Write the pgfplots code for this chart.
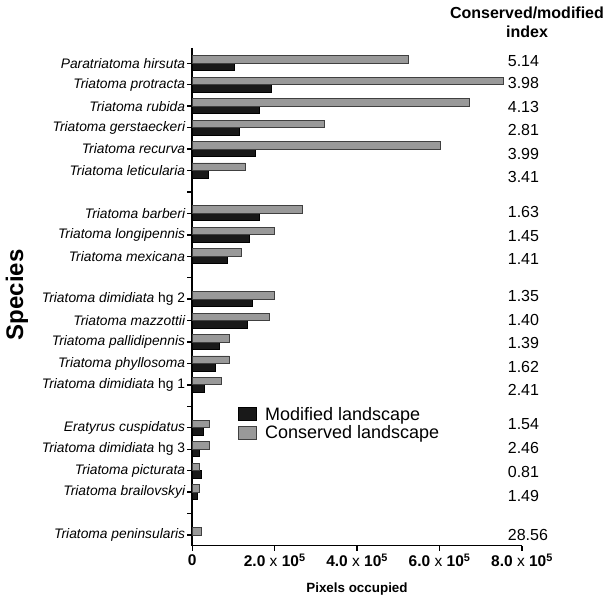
\documentclass[border=0pt]{standalone}
\usepackage{pgfplots}
\pgfplotsset{compat=1.18}
\usepackage{fontspec}
\setmainfont{Liberation Sans}

\definecolor{consgray}{gray}{0.6}
\definecolor{modblack}{gray}{0.1}

\pgfplotstableread{
y x
0 525000
1 756000
2 672000
3 321000
4 603000
5 129000
7 267000
8 200000
9 118000
11 200000
12 188000
13 91000
14 90000
15 71000
17 40500
18 40500
19 18000
20 18000
22 21000
}\conserved

\pgfplotstableread{
y x
0 102000
1 191000
2 163000
3 115000
4 152000
5 38000
7 164000
8 138000
9 84000
11 146000
12 134000
13 65000
14 55000
15 29000
17 26000
18 16500
19 23000
20 12000
22 735
}\modified

\begin{document}
\begin{tikzpicture}[x=1pt,y=1pt]
\useasboundingbox (0,0) rectangle (606,601);
\begin{axis}[
    at={(192.3pt,55.3pt)}, anchor=south west,
    scale only axis, width=329.7pt, height=497.7pt,
    xmin=0, xmax=8e5,
    ymin=-0.714, ymax=22.5, y dir=reverse,
    axis lines=left,
    axis line style={-, line width=1.6pt},
    clip=false,
    tick align=outside,
    major tick length=5pt,
    tick style={line width=1.4pt, black},
    scaled x ticks=false,
    xtick={0,200000,400000,600000,800000},
    xticklabels={0,
        2.0 \textmd{x} 10\textsuperscript{5},
        4.0 \textmd{x} 10\textsuperscript{5},
        6.0 \textmd{x} 10\textsuperscript{5},
        8.0 \textmd{x} 10\textsuperscript{5}},
    xticklabel style={font=\bfseries\fontsize{15.5}{17}\selectfont},
    ytick={0,...,22},
    yticklabels={
        Paratriatoma hirsuta,
        Triatoma protracta,
        Triatoma rubida,
        Triatoma gerstaeckeri,
        Triatoma recurva,
        Triatoma leticularia,
        {},
        Triatoma barberi,
        Triatoma longipennis,
        Triatoma mexicana,
        {},
        Triatoma dimidiata \textup{hg 2},
        Triatoma mazzottii,
        Triatoma pallidipennis,
        Triatoma phyllosoma,
        Triatoma dimidiata \textup{hg 1},
        {},
        Eratyrus cuspidatus,
        Triatoma dimidiata \textup{hg 3},
        Triatoma picturata,
        Triatoma brailovskyi,
        {},
        Triatoma peninsularis},
    yticklabel style={font=\itshape\fontsize{13.8}{15}\selectfont, inner sep=2pt},
    legend style={at={(rel axis cs:0.13,0.287)}, anchor=north west,
        draw=none, fill=none, font=\fontsize{18}{20}\selectfont},
    legend cell align=left,
    legend image code/.code={\draw[#1] (0pt,-6.5pt) rectangle (18pt,6.5pt); \path (24pt,0pt);},
]
\addplot[xbar, bar width=0.35, bar shift=0.175, fill=modblack, draw=black, line width=0.8pt]
    table[x=x, y=y] {\modified};
\addlegendentry{Modified landscape}
\addplot[xbar, bar width=0.35, bar shift=-0.175, fill=consgray, draw=black!75, line width=0.8pt]
    table[x=x, y=y] {\conserved};
\addlegendentry{Conserved landscape}

\begin{scope}[every node/.style={anchor=west, inner sep=0pt, font=\fontsize{16}{18}\selectfont}]
\node at (axis cs:765300,-0.12) {5.14};
\node at (axis cs:765300,0.92) {3.98};
\node at (axis cs:765300,2.02) {4.13};
\node at (axis cs:765300,3.11) {2.81};
\node at (axis cs:765300,4.23) {3.99};
\node at (axis cs:765300,5.29) {3.41};
\node at (axis cs:765300,6.95) {1.63};
\node at (axis cs:765300,8.04) {1.45};
\node at (axis cs:765300,9.13) {1.41};
\node at (axis cs:765300,10.85) {1.35};
\node at (axis cs:765300,11.97) {1.40};
\node at (axis cs:765300,13.05) {1.39};
\node at (axis cs:765300,14.15) {1.62};
\node at (axis cs:765300,15.24) {2.41};
\node at (axis cs:765300,16.82) {1.54};
\node at (axis cs:765300,17.94) {2.46};
\node at (axis cs:765300,19.05) {0.81};
\node at (axis cs:765300,20.17) {1.49};
\node at (axis cs:765300,22.0) {28.56};
\end{scope}
\end{axis}
\node[align=center, font=\bfseries\fontsize{16}{19}\selectfont] at (527,578.5) {Conserved/modified\\index};
\node[rotate=90, font=\bfseries\fontsize{24}{26}\selectfont] at (17,306) {Species};
\node[font=\bfseries\fontsize{13.4}{15}\selectfont] at (357,12) {Pixels occupied};
\end{tikzpicture}
\end{document}
